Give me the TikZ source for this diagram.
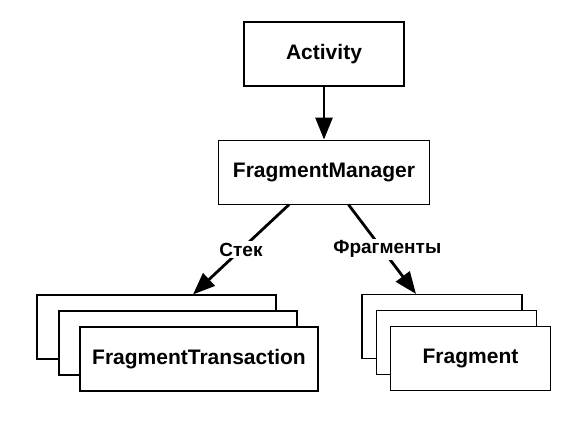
\documentclass[tikz,border=0pt]{standalone}
\usepackage{fontspec}
\setmainfont{Liberation Sans}
\usepackage{tikz}
\usetikzlibrary{arrows.meta,positioning,calc}
\tikzset{
  fmbox/.style={draw, fill=white, line width=1.1pt, minimum height=64pt, align=center, inner sep=3pt, font=\fontsize{21}{25}\selectfont\bfseries},
  fmlabel/.style={fill=white, inner sep=2pt, font=\fontsize{19}{22}\selectfont\bfseries},
  fmarrow/.style={-{Triangle[length=22pt, width=17pt]}, line width=2.8pt}
}
\begin{document}
\begin{tikzpicture}[x=1pt, y=1pt, node distance=53pt]
\useasboundingbox (0,0) rectangle (586,422);
\node[fmbox, minimum width=160pt] (activity) at (324,368) {Activity};
\node[fmbox, minimum width=211pt, below=of activity] (manager) {FragmentManager};
\draw[fmarrow] (activity) -- (manager);

% stack of transactions
\node[fmbox, minimum width=239pt] (transback) at (156.5,95) {};
\node[fmbox, minimum width=238pt] (transmid) at ($(transback)+(21.5,-16)$) {};
\node[fmbox, minimum width=238pt] (trans) at ($(transmid)+(21,-16)$) {FragmentTransaction};

% stack of fragments
\node[fmbox, minimum width=160pt] (fragback) at (442,95.5) {};
\node[fmbox, minimum width=160pt] (fragmid) at ($(fragback)+(14.5,-16)$) {};
\node[fmbox, minimum width=160pt] (frag) at ($(fragmid)+(14,-16)$) {Fragment};

\draw[fmarrow] ($(manager.south)+(-35,0)$) -- node[fmlabel] {Стек} ($(transback.north)+(36.5,0)$);
\draw[fmarrow] ($(manager.south)+(24.5,0)$) -- node[fmlabel, xshift=5pt] {Фрагменты} ($(fragback.north)+(-26,0)$);
\end{tikzpicture}
\end{document}
